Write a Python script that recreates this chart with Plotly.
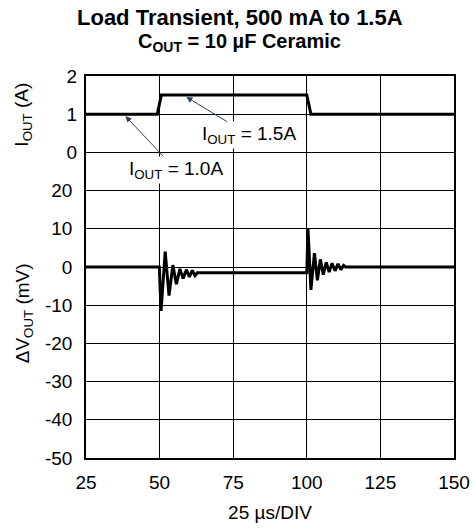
import plotly.graph_objects as go

# ---- data ----
time_ticks = [25, 50, 75, 100, 125, 150]
v_ticks = [-50, -40, -30, -20, -10, 0, 10, 20]
i_ticks = [0, 1, 2]

# load current step (A)
i_time = [25, 49.2, 50.6, 100.0, 101.4, 150]
i_amps = [1.0, 1.0, 1.5, 1.5, 1.0, 1.0]

# output voltage deviation (mV)
v_time = [25, 49.9, 50.5, 51.9, 53.2, 54.5, 55.7, 56.9, 58.0, 59.1, 60.1,
          61.1, 62.0, 62.8, 100.0, 100.4, 101.4, 102.6, 103.6, 104.6, 105.6,
          106.6, 107.6, 108.6, 109.6, 110.6, 111.6, 112.5, 113.2, 150]
v_mv = [0, 0, -11.5, 4, -7.5, 0.5, -4.5, -0.5, -3, -0.7, -2.6,
        -0.9, -2.3, -1.5, -1.5, 10, -6, 3.6, -3.5, 2, -2,
        1.2, -1.3, 1, -1, 0.8, -0.7, 0.4, 0, 0]

FONT = "Liberation Sans, Arial, Helvetica, sans-serif"

fig = go.Figure()
fig.add_trace(go.Scatter(x=v_time, y=v_mv, mode="lines",
                         line=dict(color="black", width=3), yaxis="y",
                         showlegend=False, hoverinfo="skip"))
fig.add_trace(go.Scatter(x=i_time, y=i_amps, mode="lines",
                         line=dict(color="black", width=3), yaxis="y2",
                         showlegend=False, hoverinfo="skip"))

fig.update_layout(
    width=474, height=529,
    margin=dict(l=86, r=20, t=76, b=71, autoexpand=False),
    paper_bgcolor="white", plot_bgcolor="white",
    font=dict(family=FONT, size=19, color="black"),
    xaxis=dict(
        range=[25, 150], tickvals=time_ticks, ticktext=[str(t) for t in time_ticks],
        showgrid=True, gridcolor="black", gridwidth=1,
        showline=True, linecolor="black", linewidth=1.5, mirror=True,
        ticks="", ticklabelstandoff=6, zeroline=False,
        title=dict(text="25 µs/DIV", standoff=14, font=dict(size=19)),
    ),
    yaxis=dict(
        range=[-50, 50], tickvals=v_ticks + [30, 40],
        ticktext=[str(v) for v in v_ticks] + ["", ""],
        showgrid=True, gridcolor="black", gridwidth=1,
        showline=True, linecolor="black", linewidth=1.5, mirror=True,
        ticks="", ticklabelstandoff=8, zeroline=False,
    ),
    yaxis2=dict(
        range=[-8, 2], tickvals=i_ticks, ticktext=[str(v) for v in i_ticks],
        overlaying="y", side="left", anchor="x",
        showgrid=False, showline=False, zeroline=False,
        ticks="", ticklabelstandoff=8,
    ),
)

# title lines
fig.add_annotation(text="<b>Load Transient, 500 mA to 1.5A</b>", xref="paper", yref="paper",
                   x=0.418, y=1.153, xanchor="center", yanchor="middle",
                   showarrow=False, font=dict(size=22))
fig.add_annotation(text="<b>C<sub>OUT</sub> = 10 µF Ceramic</b>", xref="paper", yref="paper",
                   x=0.418, y=1.089, xanchor="center", yanchor="middle",
                   showarrow=False, font=dict(size=20))

# axis titles
fig.add_annotation(text="I<sub>OUT</sub> (A)", xref="paper", yref="y2",
                   x=-0.17, y=1.0, textangle=-90, showarrow=False,
                   xanchor="center", yanchor="middle", font=dict(size=19))
fig.add_annotation(text="ΔV<sub>OUT</sub> (mV)", xref="paper", yref="y",
                   x=-0.17, y=-12, textangle=-90, showarrow=False,
                   xanchor="center", yanchor="middle", font=dict(size=19))

# callouts
fig.add_annotation(text="I<sub>OUT</sub> = 1.5A", xref="x", yref="y2",
                   x=59.1, y=1.45, ax=80.5, ay=0.45, axref="x", ayref="y2",
                   showarrow=True, arrowhead=2, arrowsize=1.2, arrowwidth=1,
                   bgcolor="white", font=dict(size=19), xanchor="center", yanchor="middle")
fig.add_annotation(text="I<sub>OUT</sub> = 1.0A", xref="x", yref="y2",
                   x=38.4, y=0.95, ax=55.5, ay=-0.45, axref="x", ayref="y2",
                   showarrow=True, arrowhead=2, arrowsize=1.2, arrowwidth=1,
                   bgcolor="white", font=dict(size=19), xanchor="center", yanchor="middle")

fig.write_html("out.html", config={"displayModeBar": False},
               post_script="document.body.style.margin='0';document.body.style.overflow='hidden';")
